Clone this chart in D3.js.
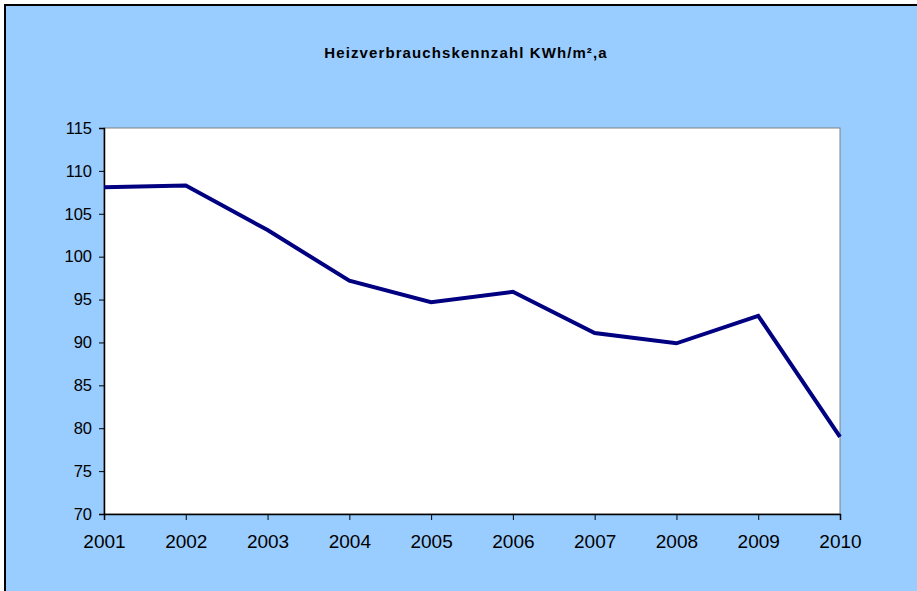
<!DOCTYPE html>
<html>
<head>
<meta charset="utf-8">
<script src="https://cdn.jsdelivr.net/npm/d3@7"></script>
<style>
  body { margin: 0; background: #fff; }
  svg { display: block; font-family: "Liberation Sans", Arial, sans-serif; }
</style>
</head>
<body>
<div id="chart"></div>
<script>
// data
const years = ["2001", "2002", "2003", "2004", "2005", "2006", "2007", "2008", "2009", "2010"]
const values = [108.1, 108.3, 103.1, 97.2, 94.7, 95.9, 91.1, 89.9, 93.1, 79.0]
const yTicks = [70, 75, 80, 85, 90, 95, 100, 105, 110, 115]
const title = "Heizverbrauchskennzahl KWh/m²,a"

const width = 917, height = 591
const margin = {top: 128, right: 77, bottom: 77, left: 104}

const svg = d3.select("#chart")
  .append("svg")
    .attr("width", width)
    .attr("height", height)

// light blue chart area with black frame
svg.append("rect")
  .attr("x", 5).attr("y", 5)
  .attr("width", width + 10).attr("height", height + 10)
  .attr("fill", "#99ccff")
  .attr("stroke", "#000")
  .attr("stroke-width", 2)

svg.append("text")
  .attr("x", 466).attr("y", 58)
  .attr("text-anchor", "middle")
  .style("font-size", "15px")
  .style("font-weight", "bold")
  .style("letter-spacing", "1.1px")
  .text(title)

const x = d3.scalePoint()
  .domain(years)
  .range([margin.left, width - margin.right])

const y = d3.scaleLinear()
  .domain([70, 115])
  .range([height - margin.bottom, margin.top])

// plot area
svg.append("rect")
  .attr("x", margin.left).attr("y", margin.top)
  .attr("width", width - margin.left - margin.right)
  .attr("height", height - margin.top - margin.bottom)
  .attr("fill", "#fff")
  .attr("stroke", "#808080")
  .attr("stroke-width", 1)

// y axis
const yAxis = svg.append("g")
  .attr("transform", `translate(${margin.left},0)`)
  .call(d3.axisLeft(y).tickValues(yTicks).tickSize(5).tickPadding(7))
yAxis.select(".domain").attr("stroke", "#000").attr("stroke-width", 1.5)
yAxis.selectAll("text").style("font-size", "16.5px").attr("fill", "#000")
  .attr("font-family", "Liberation Sans, Arial, sans-serif")

// x axis
const xAxis = svg.append("g")
  .attr("transform", `translate(0,${height - margin.bottom})`)
  .call(d3.axisBottom(x).tickSize(6).tickPadding(15))
xAxis.select(".domain").attr("stroke", "#000").attr("stroke-width", 1.5)
xAxis.selectAll("text").style("font-size", "19px").attr("fill", "#000")
  .attr("font-family", "Liberation Sans, Arial, sans-serif")

// the line
const line = d3.line()
  .x((d, i) => x(years[i]))
  .y(d => y(d))

svg.append("path")
  .datum(values)
  .attr("fill", "none")
  .attr("stroke", "#000080")
  .attr("stroke-width", 4)
  .attr("stroke-linejoin", "miter")
  .attr("d", line)
</script>
</body>
</html>
